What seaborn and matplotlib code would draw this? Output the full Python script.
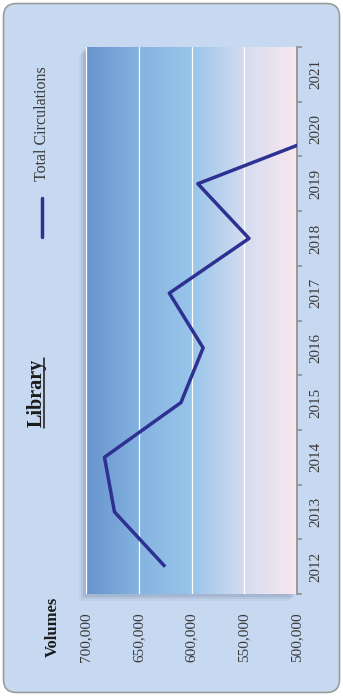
import numpy as np
import pandas as pd
import matplotlib
matplotlib.use("Agg")
import matplotlib.pyplot as plt
import seaborn as sns
from matplotlib.patches import FancyBboxPatch, Rectangle
from matplotlib.colors import LinearSegmentedColormap
from matplotlib.lines import Line2D

# ---- data ----
years = ["2012", "2013", "2014", "2015", "2016", "2017", "2018", "2019", "2020", "2021"]
circulations = [625000, 673000, 682500, 610000, 589000, 621000, 545500, 594000, 460000]
value_ticks = [700000, 650000, 600000, 550000, 500000]
series_name = "Total Circulations"
chart_title = "Library"
value_title = "Volumes"

df = pd.DataFrame({
    "Year": years[:len(circulations)],
    "pos": np.arange(len(circulations)),
    "Circulations": circulations,
})

sns.set_theme(style="white")
plt.rcParams["font.family"] = ["Liberation Serif", "DejaVu Serif"]

W, H, DPI = 343, 696, 100
fig = plt.figure(figsize=(W / DPI, H / DPI), dpi=DPI)
fig.patch.set_facecolor("white")
inch = fig.dpi_scale_trans


def px(x, y):
    """pixel position (from top-left) -> inches from bottom-left"""
    return x / DPI, (H - y) / DPI


# rounded card background
x0, y0 = px(3.5, 692.5)
card = FancyBboxPatch((x0, y0), (339.5 - 3.5) / DPI, (692.5 - 3.5) / DPI,
                      boxstyle="round,pad=0,rounding_size=0.13",
                      transform=inch, facecolor="#c6d9f0", edgecolor="#9c9c9c",
                      linewidth=1.2, zorder=-3)
fig.patches.append(card)

# plot area geometry (pixels)
L, T, R, B = 86, 47, 297, 594
ax = fig.add_axes([L / W, 1 - B / H, (R - L) / W, (B - T) / H])

# soft drop shadow behind the plot area
for off, a in [(7, 0.08), (5, 0.13), (3, 0.20)]:
    sx, sy = px(L - off, B + off)
    fig.patches.append(Rectangle((sx, sy), (R - L) / DPI, (B - T) / DPI,
                                 transform=inch, facecolor="#6d7f98",
                                 edgecolor="none", alpha=a, zorder=-2))

# gradient fill of the plot area
cmap = LinearSegmentedColormap.from_list(
    "area", [(0.0, "#6893cd"), (0.25, "#84b3e0"), (0.5, "#98c5ea"),
             (0.75, "#d4dcf0"), (1.0, "#fae7ef")])
grad = np.linspace(0, 1, 256).reshape(1, -1)
ax.imshow(grad, cmap=cmap, aspect="auto",
          extent=[700000, 500000, -0.5, len(years) - 0.5], zorder=0,
          interpolation="bicubic")

sns.lineplot(data=df, x="Circulations", y="pos", orient="y", ax=ax,
             color="#2e3192", linewidth=2.5, legend=False, zorder=3,
             solid_capstyle="butt")

ax.set_xlim(700000, 500000)
ax.set_ylim(-0.5, len(years) - 0.5)

# value axis (bottom, labels rotated)
ax.set_xticks(value_ticks)
ax.set_xticklabels([f"{v:,.0f}" for v in value_ticks], rotation=90,
                   va="top", ha="center", fontsize=11, color="#3a3a3a")
ax.tick_params(axis="x", length=0, pad=13)
ax.grid(axis="x", color="white", linewidth=0.9)
ax.grid(axis="y", visible=False)
ax.set_xlabel("")
ax.set_ylabel("")

# category axis (right)
ax.yaxis.tick_right()
ax.set_yticks(np.arange(-0.5, len(years), 1.0))
ax.set_yticklabels([])
ax.set_yticks(np.arange(len(years)), minor=True)
ax.set_yticklabels(years, minor=True, rotation=90, va="center", ha="left",
                   fontsize=10.8, color="#3a3a3a")
ax.tick_params(axis="y", which="major", length=3.5, width=1.1,
               color="#8c8c8c", right=True, left=False)
ax.tick_params(axis="y", which="minor", length=0, pad=9, right=True, left=False)

for side in ["left", "top", "bottom"]:
    ax.spines[side].set_visible(False)
ax.spines["right"].set_color("#8c8c8c")
ax.spines["right"].set_linewidth(1.2)
ax.set_facecolor("none")

# titles
tx, ty = px(37, 393)
fig.text(tx, ty, chart_title, transform=inch, rotation=90, ha="center",
         va="center", fontsize=14.5, fontweight="bold", color="#1a1a1a")
ux0, uy0 = px(43.5, 428)
ux1, uy1 = px(43.5, 358)
fig.lines.append(Line2D([ux0, ux1], [uy0, uy1], transform=inch,
                        color="#1a1a1a", linewidth=1.1))

vx, vy = px(53, 627)
fig.text(vx, vy, value_title, transform=inch, rotation=90, ha="center",
         va="center", fontsize=12, fontweight="bold", color="#1a1a1a")

# legend
lx, ly = px(42, 123.5)
fig.text(lx, ly, series_name, transform=inch, rotation=90, ha="center",
         va="center", fontsize=11.5, color="#3a3a3a")
kx0, ky0 = px(42, 237)
kx1, ky1 = px(42, 198)
fig.lines.append(Line2D([kx0, kx1], [ky0, ky1], transform=inch,
                        color="#2e3192", linewidth=2.5, solid_capstyle="round"))

fig.savefig("out.png", dpi=DPI)
